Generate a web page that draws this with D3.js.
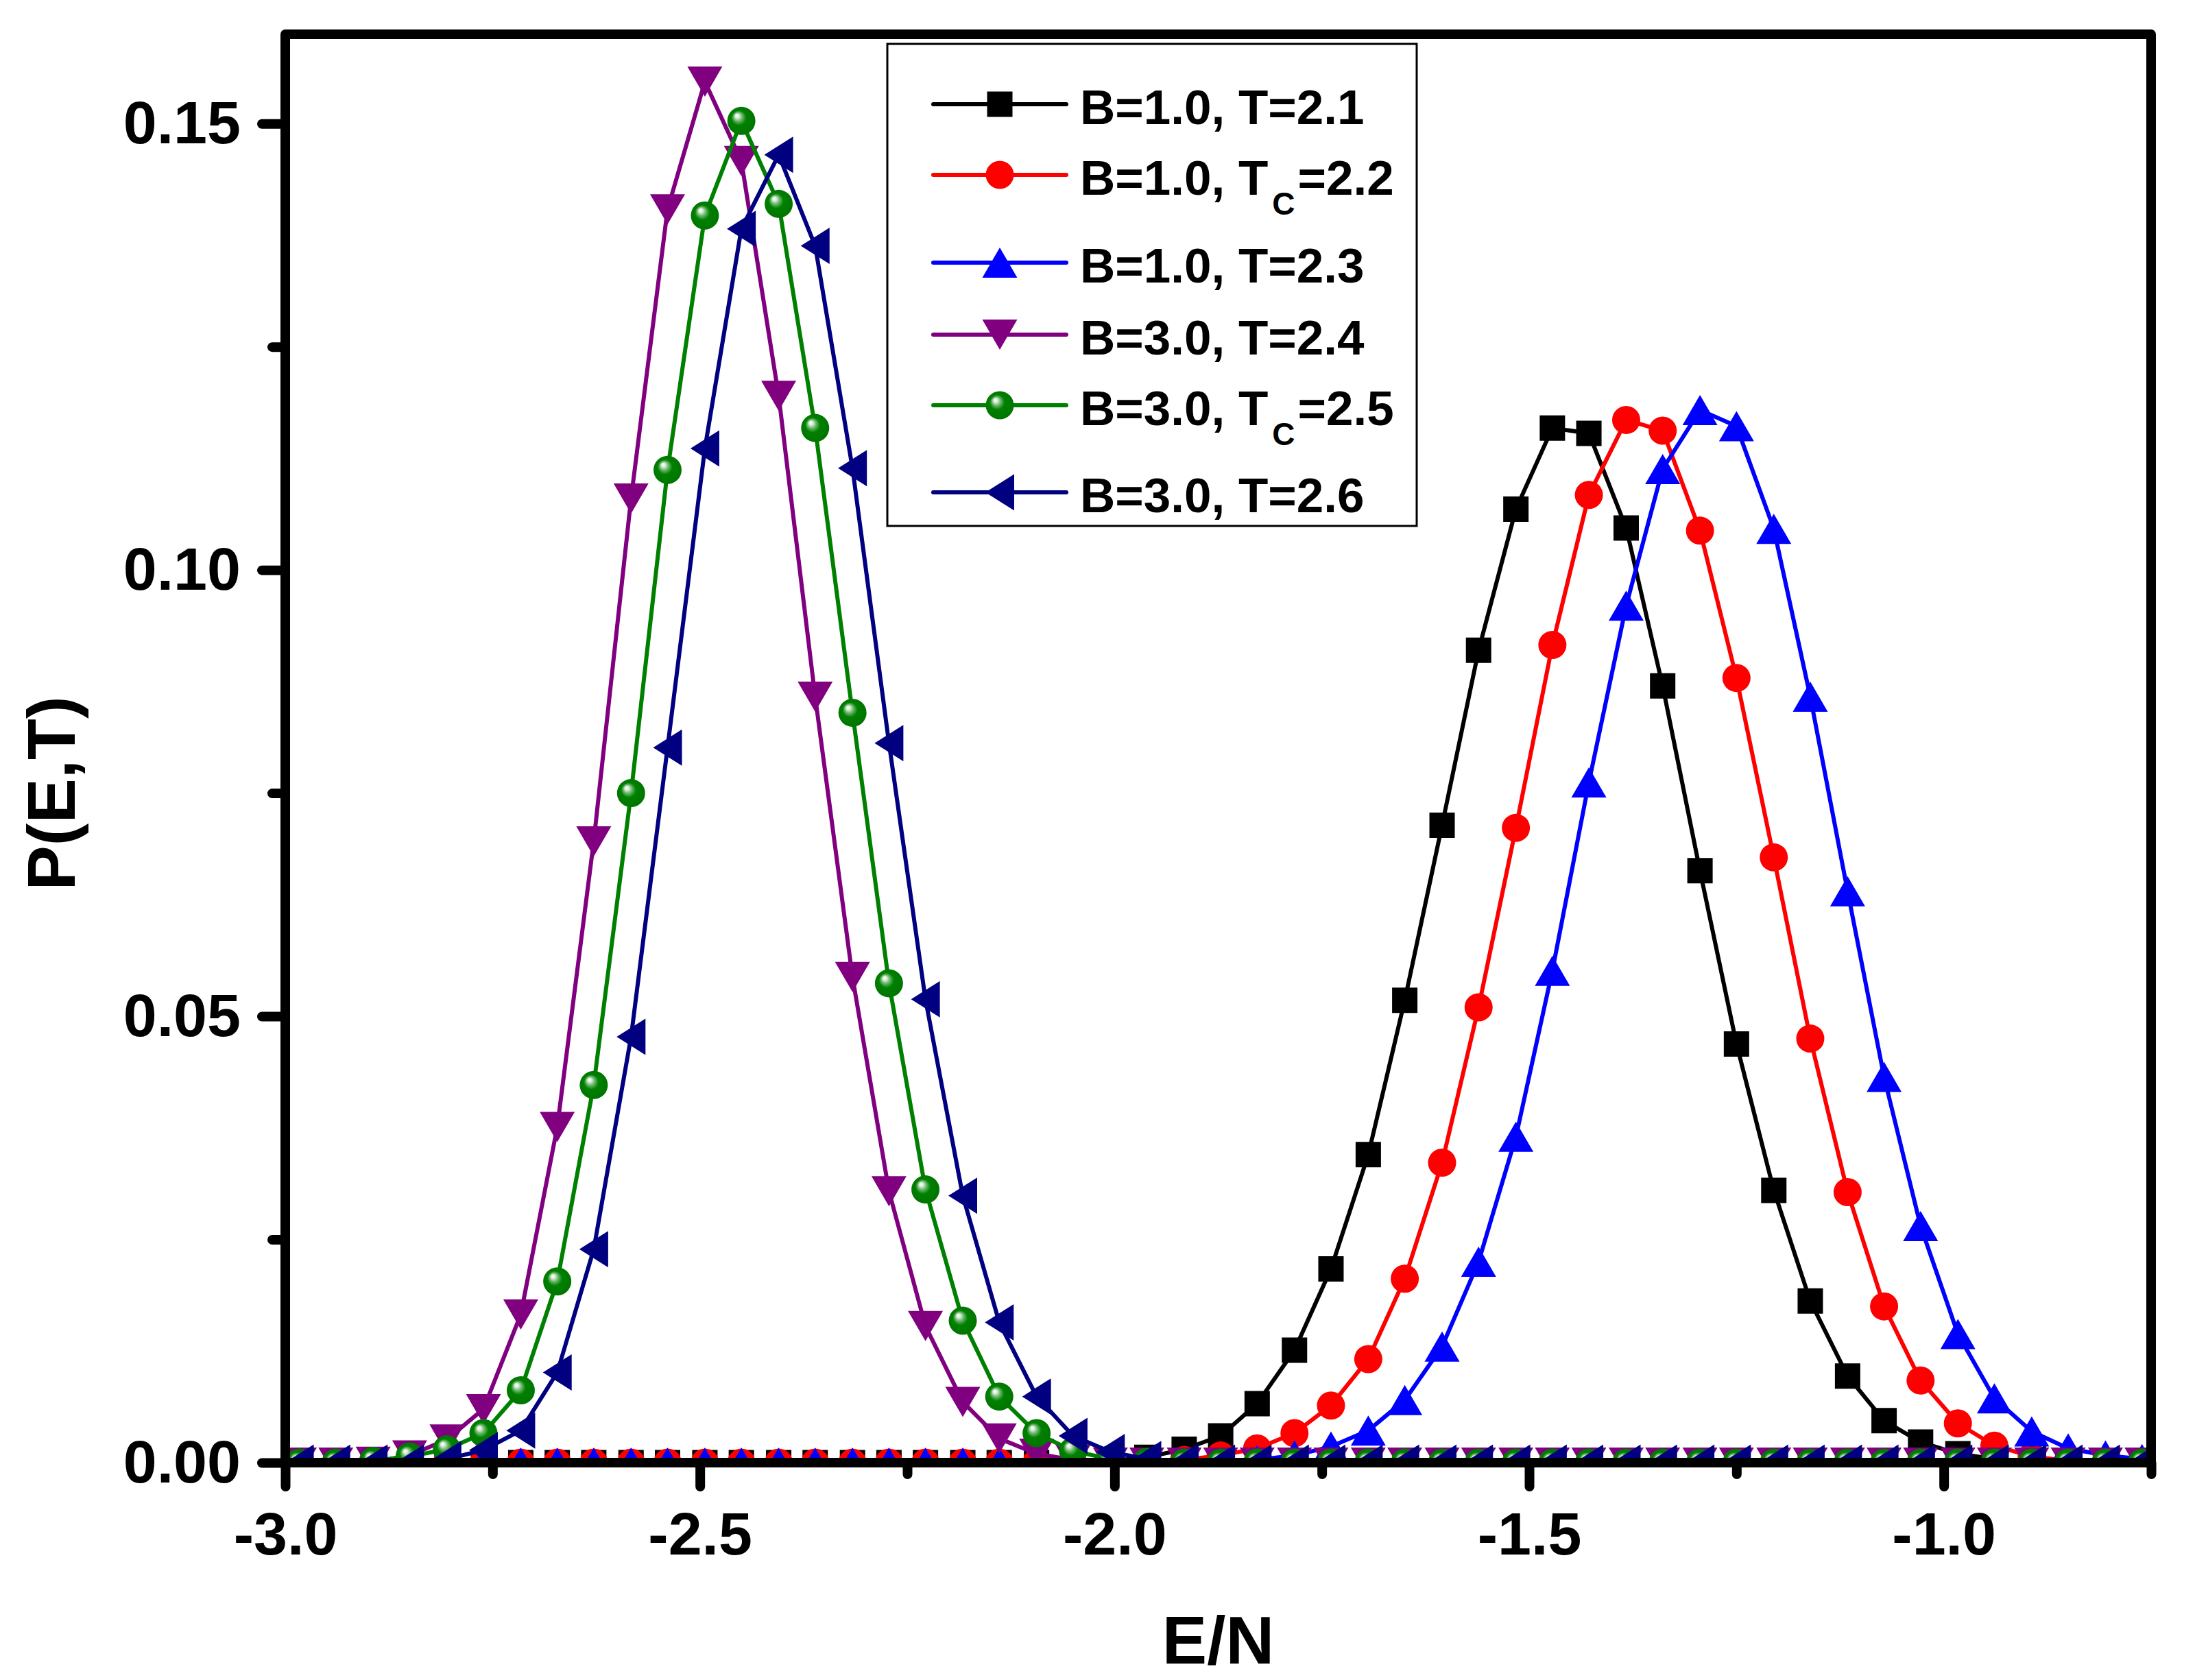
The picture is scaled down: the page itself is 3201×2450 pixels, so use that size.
<!DOCTYPE html>
<html>
<head>
<meta charset="utf-8">
<script src="https://cdn.jsdelivr.net/npm/d3@7"></script>
<style>
  body { margin: 0; background: #fff; }
  text { font-family: "Liberation Sans", Arial, sans-serif; font-weight: bold; }
</style>
</head>
<body>
<script>
// energy per spin (E/N) grid shared by all curves
var energy = [-2.983, -2.939, -2.894, -2.850, -2.805, -2.761, -2.716, -2.672, -2.628, -2.583,
              -2.539, -2.494, -2.450, -2.405, -2.361, -2.316, -2.272, -2.228, -2.183, -2.139,
              -2.094, -2.050, -2.005, -1.961, -1.916, -1.872, -1.828, -1.783, -1.739, -1.694,
              -1.650, -1.605, -1.561, -1.516, -1.472, -1.428, -1.383, -1.339, -1.294, -1.250,
              -1.205, -1.161, -1.116, -1.072, -1.028, -0.983, -0.939, -0.894, -0.850, -0.805,
              -0.761];

// P(E,T) for each run
var pB1T21 = [0, 0, 0, 0, 0, 0, 0, 0, 0, 0,
              0, 0, 0, 0, 0, 0, 0, 0, 0, 0,
              0, 0, 0.0002, 0.0006, 0.0015, 0.0030, 0.0066, 0.0126, 0.0217, 0.0345,
              0.0518, 0.0714, 0.0910, 0.1068, 0.1159, 0.1153, 0.1047, 0.0870, 0.0663, 0.0469,
              0.0305, 0.0181, 0.0097, 0.0047, 0.0023, 0.0010, 0.0004, 0.0001, 0, 0,
              0];
var pB1T22 = [0, 0, 0, 0, 0, 0, 0, 0, 0, 0,
              0, 0, 0, 0, 0, 0, 0, 0, 0, 0,
              0, 0, 0, 0, 0.0003, 0.0008, 0.0016, 0.0033, 0.0064, 0.0116,
              0.0206, 0.0336, 0.0510, 0.0711, 0.0916, 0.1084, 0.1168, 0.1156, 0.1044, 0.0879,
              0.0678, 0.0475, 0.0303, 0.0175, 0.0092, 0.0044, 0.0019, 0.0007, 0.0002, 0,
              0];
var pB1T23 = [0, 0, 0, 0, 0, 0, 0, 0, 0, 0,
              0, 0, 0, 0, 0, 0, 0, 0, 0, 0,
              0, 0, 0, 0, 0, 0, 0.0003, 0.0008, 0.0018, 0.0036,
              0.0070, 0.0130, 0.0225, 0.0365, 0.0551, 0.0762, 0.0960, 0.1113, 0.1179, 0.1161,
              0.1046, 0.0858, 0.0640, 0.0432, 0.0265, 0.0144, 0.0072, 0.0035, 0.0016, 0.0008,
              0.0004];
var pB3T24 = [0, 0, 0.0001, 0.0008, 0.0026, 0.0060, 0.0166, 0.0376, 0.0696, 0.1080,
              0.1404, 0.1547, 0.1458, 0.1195, 0.0858, 0.0544, 0.0304, 0.0153, 0.0068, 0.0027,
              0.0010, 0.0003, 0, 0, 0, 0, 0, 0, 0, 0,
              0, 0, 0, 0, 0, 0, 0, 0, 0, 0,
              0, 0, 0, 0, 0, 0, 0, 0, 0, 0,
              0];
var pB3T25 = [0, 0, 0.0002, 0.0007, 0.0015, 0.0033, 0.0081, 0.0203, 0.0423, 0.0750,
              0.1112, 0.1397, 0.1503, 0.1410, 0.1159, 0.0840, 0.0537, 0.0306, 0.0159, 0.0074,
              0.0033, 0.0013, 0.0004, 0.0001, 0, 0, 0, 0, 0, 0,
              0, 0, 0, 0, 0, 0, 0, 0, 0, 0,
              0, 0, 0, 0, 0, 0, 0, 0, 0, 0,
              0];
var pB3T26 = [0, 0, 0, 0, 0.0004, 0.0014, 0.0036, 0.0101, 0.0239, 0.0477,
              0.0801, 0.1136, 0.1382, 0.1465, 0.1363, 0.1114, 0.0806, 0.0519, 0.0299, 0.0157,
              0.0074, 0.0030, 0.0012, 0.0004, 0.0001, 0, 0, 0, 0, 0,
              0, 0, 0, 0, 0, 0, 0, 0, 0, 0,
              0, 0, 0, 0, 0, 0, 0, 0, 0, 0,
              0];

var xMajor = [-3.0, -2.5, -2.0, -1.5, -1.0];
var xMinor = [-2.75, -2.25, -1.75, -1.25, -0.75];
var yMajor = [0, 0.05, 0.10, 0.15];
var yMinor = [0.025, 0.075, 0.125];

(function(){
    var width = 3201, height = 2450;
    var left = 416, right = 3137, top = 50, bottom = 2133;

    var x = d3.scaleLinear().domain([-3, -0.75]).range([left, right]);
    var y = d3.scaleLinear().domain([0, 0.16]).range([bottom, top]);

    var svg = d3.select("body").append("svg")
        .attr("width", width)
        .attr("height", height);

    var defs = svg.append("defs");
    defs.append("clipPath").attr("id", "plotclip")
        .append("rect")
        .attr("x", left).attr("y", top)
        .attr("width", right - left).attr("height", bottom - top);

    var grad = defs.append("radialGradient").attr("id", "ball")
        .attr("cx", "0.5").attr("cy", "0.5").attr("r", "0.55")
        .attr("fx", "0.33").attr("fy", "0.3");
    grad.append("stop").attr("offset", "0%").attr("stop-color", "#ffffff");
    grad.append("stop").attr("offset", "12%").attr("stop-color", "#e0f0e0");
    grad.append("stop").attr("offset", "28%").attr("stop-color", "#6cb86c");
    grad.append("stop").attr("offset", "48%").attr("stop-color", "#008000");
    grad.append("stop").attr("offset", "100%").attr("stop-color", "#007400");

    // marker outlines, centred on the data point
    var shapes = {
        square: "M-18.5,-18.5H18.5V18.5H-18.5Z",
        circle: "M-20.5,0A20.5,20.5 0 1,0 20.5,0A20.5,20.5 0 1,0 -20.5,0Z",
        up: "M0,-22L25.5,22L-25.5,22Z",
        down: "M0,22L25.5,-22L-25.5,-22Z",
        left: "M-21,0L21,-26.5L21,26.5Z"
    };

    var series = [
        {values: pB1T21, color: "#000000", shape: "square", fill: "#000000", label: ["B=1.0, T", null, "=2.1"]},
        {values: pB1T22, color: "#ff0000", shape: "circle", fill: "#ff0000", label: ["B=1.0, T", "C", "=2.2"]},
        {values: pB1T23, color: "#0000ff", shape: "up", fill: "#0000ff", label: ["B=1.0, T", null, "=2.3"]},
        {values: pB3T24, color: "#800080", shape: "down", fill: "#800080", label: ["B=3.0, T", null, "=2.4"]},
        {values: pB3T25, color: "#008000", shape: "circle", fill: "url(#ball)", label: ["B=3.0, T", "C", "=2.5"]},
        {values: pB3T26, color: "#000080", shape: "left", fill: "#000080", label: ["B=3.0, T", null, "=2.6"]}
    ];

    var line = d3.line()
        .x(function(d){ return x(d[0]); })
        .y(function(d){ return y(d[1]); });

    var plot = svg.append("g").attr("clip-path", "url(#plotclip)");

    series.forEach(function(s){
        var pts = energy.map(function(e, i){ return [e, s.values[i]]; });
        var g = plot.append("g");
        g.append("path")
            .attr("d", line(pts))
            .attr("fill", "none")
            .attr("stroke", s.color)
            .attr("stroke-width", 6)
            .attr("stroke-linejoin", "round");
        g.selectAll("path.mk").data(pts).enter().append("path")
            .attr("class", "mk")
            .attr("d", shapes[s.shape])
            .attr("fill", s.fill)
            .attr("transform", function(d){ return "translate(" + x(d[0]) + "," + y(d[1]) + ")"; });
    });

    // axes: ticks outward on bottom and left only
    function styleAxis(g){
        g.select(".domain").remove();
        g.selectAll(".tick line")
            .attr("stroke", "#000")
            .attr("stroke-width", 14)
            .attr("stroke-linecap", "round");
        g.selectAll(".tick text")
            .attr("fill", "#000")
            .style("font-size", "88px");
    }

    svg.append("g")
        .attr("transform", "translate(0," + bottom + ")")
        .call(d3.axisBottom(x).tickValues(xMinor).tickSize(17).tickFormat(""))
        .call(styleAxis);
    svg.append("g")
        .attr("transform", "translate(0," + bottom + ")")
        .call(d3.axisBottom(x).tickValues(xMajor).tickSize(35).tickPadding(37)
            .tickFormat(d3.format(".1f")))
        .call(styleAxis);

    svg.append("g")
        .attr("transform", "translate(" + left + ",0)")
        .call(d3.axisLeft(y).tickValues(yMinor).tickSize(19).tickFormat(""))
        .call(styleAxis);
    svg.append("g")
        .attr("transform", "translate(" + left + ",0)")
        .call(d3.axisLeft(y).tickValues(yMajor).tickSize(34).tickPadding(31)
            .tickFormat(d3.format(".2f")))
        .call(styleAxis);

    svg.selectAll(".tick text").text(function(){
        return d3.select(this).text().replace("\u2212", "-");
    });

    // frame
    svg.append("rect")
        .attr("x", left).attr("y", top)
        .attr("width", right - left).attr("height", bottom - top)
        .attr("fill", "none")
        .attr("stroke", "#000")
        .attr("stroke-width", 14)
        .attr("stroke-linejoin", "round");

    // axis titles
    svg.append("text")
        .attr("x", (left + right) / 2)
        .attr("y", 2426)
        .attr("text-anchor", "middle")
        .style("font-size", "98px")
        .text("E/N");
    svg.append("text")
        .attr("transform", "translate(109,1157) rotate(-90)")
        .attr("text-anchor", "middle")
        .style("font-size", "98px")
        .text("P(E,T)");

    // legend
    var legend = svg.append("g");
    legend.append("rect")
        .attr("x", 1294).attr("y", 64)
        .attr("width", 772).attr("height", 703)
        .attr("fill", "#fff")
        .attr("stroke", "#000")
        .attr("stroke-width", 3);

    var rowY = [152, 255, 383, 488, 591, 718];
    series.forEach(function(s, i){
        var cy = rowY[i];
        var row = legend.append("g");
        row.append("line")
            .attr("x1", 1361).attr("x2", 1555)
            .attr("y1", cy).attr("y2", cy)
            .attr("stroke", s.color)
            .attr("stroke-width", 6)
            .attr("stroke-linecap", "round");
        row.append("path")
            .attr("d", shapes[s.shape])
            .attr("fill", s.fill)
            .attr("transform", "translate(1458," + cy + ")");
        var t = row.append("text")
            .attr("x", 1575)
            .attr("y", cy + 29)
            .style("font-size", "71px");
        t.append("tspan").text(s.label[0]);
        if (s.label[1]) {
            t.append("tspan").attr("dx", 6).attr("dy", 29).style("font-size", "46px").text(s.label[1]);
            t.append("tspan").attr("dx", 4).attr("dy", -29).text(s.label[2]);
        } else {
            t.append("tspan").text(s.label[2]);
        }
    });
})();
</script>
</body>
</html>
